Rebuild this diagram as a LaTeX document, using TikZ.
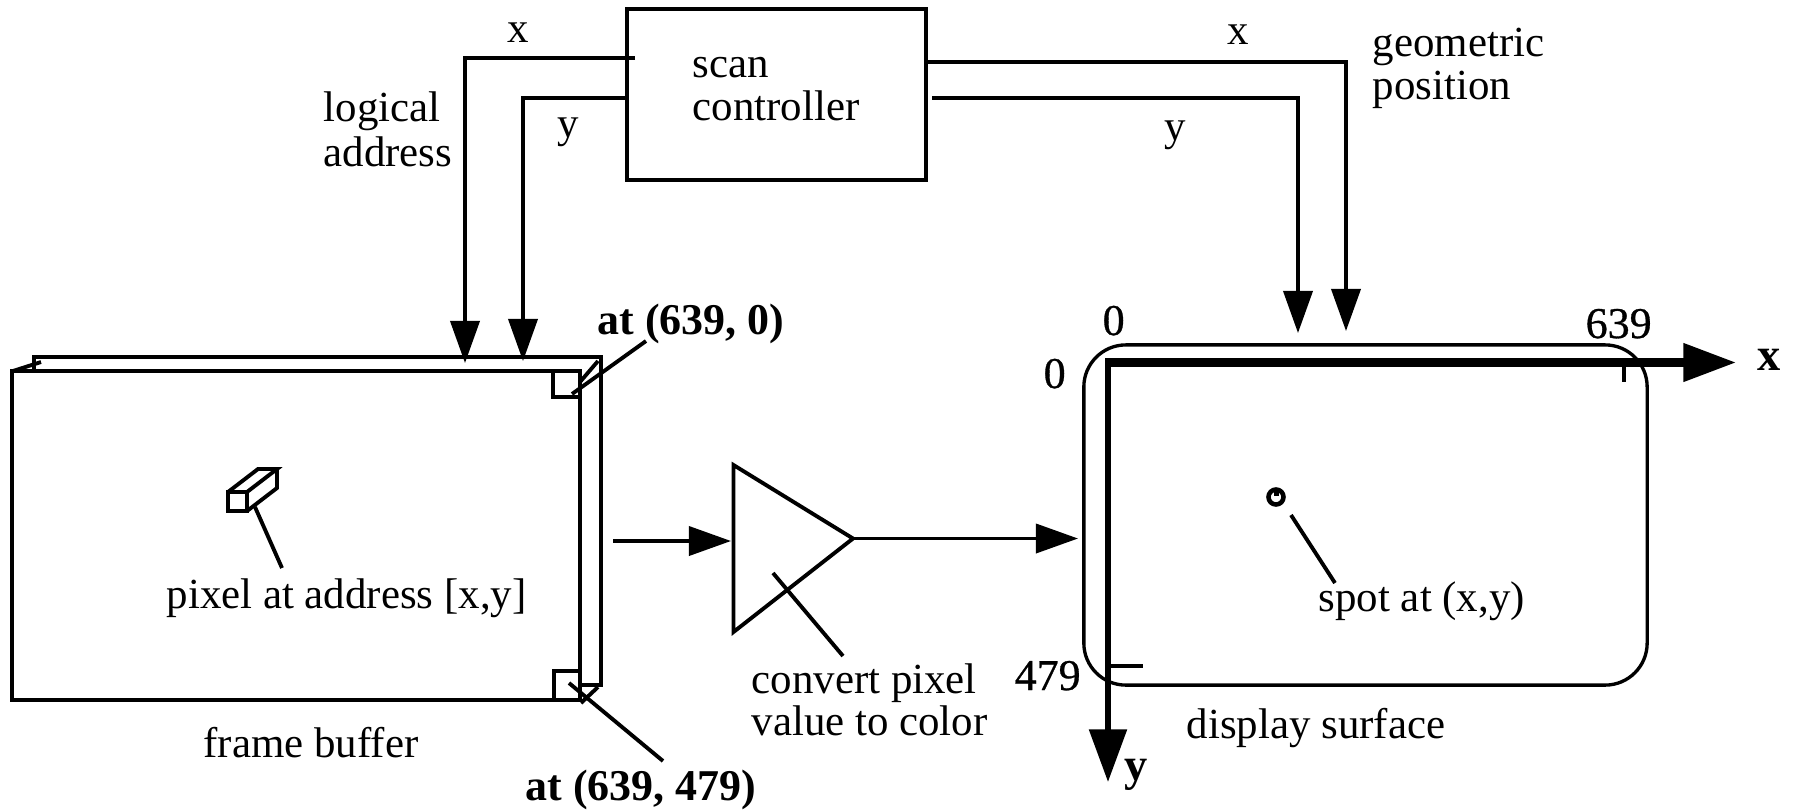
\documentclass[tikz,border=0pt]{standalone}
\usepackage{fontspec}
\setmainfont{Liberation Serif}
\newfontfamily\numfont[FakeBold=.7]{Liberation Serif}
\usetikzlibrary{arrows.meta}
\tikzset{
  sig/.style={line width=1pt,-{Triangle[length=12pt,width=8.3pt]}},
  bigaxis/.style={-{Triangle[length=15pt,width=10.5pt]}},
  lead/.style={line width=1.1pt},
  lbl/.style={anchor=base west,inner sep=0pt,font=\fontsize{12.2}{12}\selectfont,align=left},
  numlbl/.style={lbl,font=\fontsize{12.5}{12}\numfont},
  boldlbl/.style={lbl,font=\fontsize{12.5}{12}\selectfont\bfseries},
  axislbl/.style={lbl,font=\fontsize{13.2}{12}\selectfont\bfseries},
}
\begin{document}
\begin{tikzpicture}[x=.01cm,y=-.01cm,line join=miter]
    \useasboundingbox (0,0) rectangle (1793,811);

    % blocks
    \node [draw,line width=1.1pt,minimum width=2.99cm,minimum height=1.71cm,inner sep=0pt] (scan) at (776.5,94.5) {};
    \node [draw,line width=1.1pt,minimum width=5.67cm,minimum height=3.29cm,inner sep=0pt] (frame) at (296,535.5) {};
    \node [draw,line width=.95pt,rounded corners=.42cm,minimum width=5.63cm,minimum height=3.4cm,inner sep=0pt] (display) at (1365.5,515) {};
    \coordinate (ampTop) at (733.5,465);
    \coordinate (ampBot) at (733.5,632);
    \coordinate (ampApex) at (853,538.5);
    \draw[lead] (ampTop) -- (ampApex) -- (ampBot) -- cycle;

    % back of the frame buffer
    \coordinate (backA) at (34,371);
    \coordinate (backB) at (34,357);
    \coordinate (backC) at (601,357);
    \coordinate (backD) at (601,685);
    \coordinate (backE) at (580,685);
    \draw[lead] (backA) -- (backB) -- (backC) -- (backD) -- (backE);
    \coordinate (slantA) at (13,371);
    \coordinate (slantB) at (41,362);
    \coordinate (slantC) at (580,382);
    \coordinate (slantD) at (598,361);
    \coordinate (slantE) at (581,703);
    \coordinate (slantF) at (598,687);
    \draw[lead] (slantA) -- (slantB);
    \draw[lead] (slantC) -- (slantD);
    \draw[lead] (slantE) -- (slantF);

    % corner cells
    \coordinate (cellA) at (553,371);
    \coordinate (cellB) at (553,397);
    \coordinate (cellC) at (579,397);
    \coordinate (cellD) at (554,699);
    \coordinate (cellE) at (554,671);
    \coordinate (cellF) at (579,671);
    \draw[lead] (cellA) -- (cellB) -- (cellC);
    \draw[lead] (cellD) -- (cellE) -- (cellF);

    % the pixel
    \coordinate (pixA) at (228,492);
    \coordinate (pixB) at (247,492);
    \coordinate (pixC) at (247,511);
    \coordinate (pixD) at (228,511);
    \coordinate (pixE) at (258,469);
    \coordinate (pixF) at (277,469);
    \coordinate (pixG) at (277,488);
    \draw[lead] (pixA) -- (pixB) -- (pixC) -- (pixD) -- cycle;
    \draw[lead] (pixA) -- (pixE) -- (pixF) -- (pixB);
    \draw[lead] (pixF) -- (pixG) -- (pixC);

    % scan lines
    \coordinate (xOutL) at (635,58);
    \coordinate (xBendL) at (465,58);
    \coordinate (xInL) at (465,363);
    \coordinate (yOutL) at (627,98);
    \coordinate (yBendL) at (523,98);
    \coordinate (yInL) at (523,361);
    \coordinate (xOutR) at (927,62);
    \coordinate (xBendR) at (1346,62);
    \coordinate (xInR) at (1346,331);
    \coordinate (yOutR) at (932,98);
    \coordinate (yBendR) at (1298,98);
    \coordinate (yInR) at (1298,333);
    \draw[sig] (xOutL) -- (xBendL) -- (xInL);
    \draw[sig] (yOutL) -- (yBendL) -- (yInL);
    \draw[sig] (xOutR) -- (xBendR) -- (xInR);
    \draw[sig] (yOutR) -- (yBendR) -- (yInR);

    % signal path
    \coordinate (fbOut) at (613,541);
    \coordinate (ampIn) at (731,541);
    \coordinate (dispIn) at (1078,538.5);
    \draw[sig] (fbOut) -- (ampIn);
    \draw[sig] (ampApex) -- (dispIn);

    % axes
    \coordinate (org) at (1105,362.5);
    \coordinate (orgY) at (1108,358.5);
    \coordinate (xTip) at (1736,362.5);
    \coordinate (yTip) at (1108,782);
    \draw[line width=2.3pt,bigaxis] (org) -- (xTip);
    \draw[line width=1.7pt,bigaxis] (orgY) -- (yTip);
    \coordinate (tickXa) at (1624,362);
    \coordinate (tickXb) at (1624,382);
    \coordinate (tickYa) at (1108,666);
    \coordinate (tickYb) at (1143,666);
    \draw[lead] (tickXa) -- (tickXb);
    \draw[lead] (tickYa) -- (tickYb);

    % the spot
    \coordinate (spot) at (1276,497);
    \draw[line width=1.3pt] (spot) circle (7.5*.01cm);
    \fill (1273.5,490) rectangle (1278.5,496);

    % leaders
    \coordinate (leadCellA) at (572,394);
    \coordinate (leadCellB) at (646,341);
    \coordinate (leadCellC) at (569,683);
    \coordinate (leadCellD) at (663,761);
    \coordinate (leadPixA) at (255,507);
    \coordinate (leadPixB) at (282,568);
    \coordinate (leadAmpA) at (773,573);
    \coordinate (leadAmpB) at (843,656);
    \coordinate (leadSpotA) at (1291,515);
    \coordinate (leadSpotB) at (1335,583);
    \draw[lead] (leadCellA) -- (leadCellB);
    \draw[lead] (leadCellC) -- (leadCellD);
    \draw[lead] (leadPixA) -- (leadPixB);
    \draw[lead] (leadAmpA) -- (leadAmpB);
    \draw[lead] (leadSpotA) -- (leadSpotB);

    % labels
    \node [lbl] (scanText) at (692,77) {scan};
    \node [lbl] (ctrlText) at (692,120) {controller};
    \node [lbl] (xLeft) at (507,42) {x};
    \node [lbl] (yLeft) at (557,137) {y};
    \node [lbl] (logical) at (323,121) {logical};
    \node [lbl] (address) at (323,166) {address};
    \node [lbl] (xRight) at (1227,44) {x};
    \node [lbl] (yRight) at (1164,140) {y};
    \node [lbl] (geometric) at (1372,56) {geometric};
    \node [lbl] (position) at (1372,99) {position};
    \node [boldlbl] (atTop) at (597,334) {at (639, 0)};
    \node [boldlbl] (atBottom) at (525,800) {at (639, 479)};
    \node [numlbl] (zeroTop) at (1102,335) {0};
    \node [numlbl] (maxX) at (1585,338) {639};
    \node [numlbl] (zeroLeft) at (1043,388) {0};
    \node [numlbl] (maxY) at (1014,690) {479};
    \node [axislbl] (axisX) at (1757,370) {x};
    \node [axislbl] (axisY) at (1124,780) {y};
    \node [lbl] (pixText) at (166,608) {pixel at address [x,y]};
    \node [lbl] (frameText) at (203,757) {frame buffer};
    \node [lbl] (convert) at (751,693) {convert pixel};
    \node [lbl] (toColor) at (751,735) {value to color};
    \node [lbl] (spotText) at (1318,611) {spot at (x,y)};
    \node [lbl] (dispText) at (1186,738) {display surface};
\end{tikzpicture}
\end{document}
